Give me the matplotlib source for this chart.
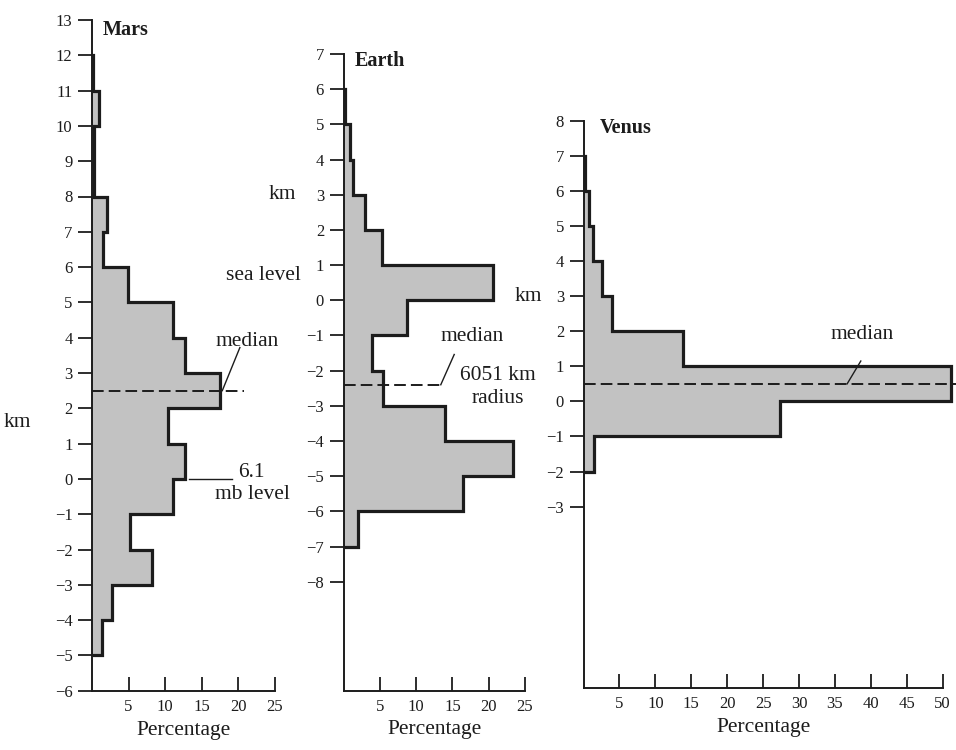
import matplotlib
matplotlib.use("Agg")
import matplotlib.pyplot as plt

plt.rcParams['font.family'] = ['Liberation Serif', 'DejaVu Serif']
plt.rcParams['mathtext.fontset'] = 'dejavuserif'

# Hypsometry: percentage of surface area per 1-km elevation bin (bottom-up)
mars_edges = list(range(-5, 13))
mars_pct = [1.3, 2.7, 8.2, 5.2, 11.1, 12.7, 10.4, 17.5, 12.7, 11.1,
            4.9, 1.5, 2.1, 0.3, 0.3, 0.9, 0.2]

earth_edges = list(range(-7, 7))
earth_pct = [2.0, 16.4, 23.4, 14.0, 5.4, 3.9, 8.8, 20.6, 5.3, 2.9,
             1.35, 0.9, 0.2]

venus_edges = list(range(-2, 8))
venus_pct = [1.4, 27.3, 51.2, 13.9, 4.0, 2.6, 1.3, 0.7, 0.2]

# Median elevations (km)
mars_median = 2.5
earth_median = -2.4
venus_median = 0.5

# Axis ticks
mars_yticks = list(range(-6, 14))
earth_yticks = list(range(-8, 8))
venus_yticks = list(range(-3, 9))
mars_xticks = [5, 10, 15, 20, 25]
earth_xticks = [5, 10, 15, 20, 25]
venus_xticks = list(range(5, 55, 5))

INK = '#1c1c1c'
FILL = '#c2c2c2'
TXT = 15.5
TICK = 12

W, H = 956, 750
fig = plt.figure(figsize=(W / 100, H / 100), dpi=100)
fig.patch.set_facecolor('white')


def make_axes(x0, x1, ytop, ybot):
    return fig.add_axes([x0 / W, 1 - ybot / H, (x1 - x0) / W, (ybot - ytop) / H])


def style(ax, xlim, ylim, xticks, yticks):
    ax.set_xlim(*xlim)
    ax.set_ylim(*ylim)
    ax.set_xticks(xticks)
    ax.set_yticks(yticks)
    ax.set_facecolor('none')
    for s in ('top', 'right'):
        ax.spines[s].set_visible(False)
    for s in ('left', 'bottom'):
        ax.spines[s].set_linewidth(1.4)
        ax.spines[s].set_color(INK)
    ax.tick_params(axis='y', direction='out', length=10, width=1.3,
                   pad=4, labelsize=TICK, colors=INK)
    ax.tick_params(axis='x', direction='in', length=10, width=1.3,
                   pad=6, labelsize=TICK, colors=INK)
    ax.set_xlabel('Percentage', fontsize=TXT, labelpad=4, color=INK)


def histogram(ax, edges, pct):
    ax.stairs(pct, edges, orientation='horizontal', baseline=0, fill=True,
              color=FILL, zorder=1, clip_on=False)
    ax.stairs(pct, edges, orientation='horizontal', baseline=0, fill=False,
              color=INK, lw=2.3, zorder=3, clip_on=False)


def median_line(ax, y, xend):
    ax.plot([0, xend], [y, y], color=INK, lw=1.4, ls=(0, (6, 2.6)),
            zorder=4, clip_on=False)


def leader(ax, p0, p1):
    ax.plot([p0[0], p1[0]], [p0[1], p1[1]], color=INK, lw=1.0,
            zorder=4, clip_on=False)


# ---- Mars ----
ax_m = make_axes(92, 275, 20, 690.7)
style(ax_m, (0, 25), (-6, 13), mars_xticks, mars_yticks)
histogram(ax_m, mars_edges, mars_pct)
median_line(ax_m, mars_median, 20.7)
leader(ax_m, (17.8, mars_median), (20.2, 3.72))
ax_m.text(16.9, 3.89, 'median', fontsize=TXT, ha='left', va='center', color=INK)
ax_m.plot([13.2, 19.1], [0, 0], color=INK, lw=1.0, clip_on=False)
ax_m.text(19.9, 0.18, '6.1', fontsize=TXT, ha='left', va='center', color=INK)
ax_m.text(16.8, -0.43, 'mb level', fontsize=TXT, ha='left', va='center', color=INK)
ax_m.text(1.5, 12.73, 'Mars', fontsize=14.5, fontweight='bold',
          ha='left', va='center', color=INK)
fig.text(17 / W, 1 - 423 / H, 'km', fontsize=TXT, ha='center', va='center', color=INK)

# ---- Earth ----
ax_e = make_axes(343.5, 525, 54, 690.5)
style(ax_e, (0, 25), (-11.09, 7), earth_xticks, earth_yticks)
histogram(ax_e, earth_edges, earth_pct)
median_line(ax_e, earth_median, 13.4)
leader(ax_e, (13.4, earth_median), (15.25, -1.54))
ax_e.text(13.4, -1.03, 'median', fontsize=TXT, ha='left', va='center', color=INK)
ax_e.text(16.1, -2.15, '6051 km', fontsize=TXT, ha='left', va='center', color=INK)
ax_e.text(17.6, -2.8, 'radius', fontsize=TXT, ha='left', va='center', color=INK)
ax_e.text(-6.5, 3.0, 'km', fontsize=TXT, ha='right', va='center', color=INK)
ax_e.text(-5.9, 0.7, 'sea level', fontsize=TXT, ha='right', va='center', color=INK)
ax_e.text(1.6, 6.79, 'Earth', fontsize=14.5, fontweight='bold',
          ha='left', va='center', color=INK)

# ---- Venus ----
ax_v = make_axes(583.5, 942.7, 120.7, 688)
style(ax_v, (0, 50), (-8.17, 8), venus_xticks, venus_yticks)
histogram(ax_v, venus_edges, venus_pct)
median_line(ax_v, venus_median, 51.8)
leader(ax_v, (36.7, venus_median), (38.6, 1.15))
ax_v.text(34.4, 1.9, 'median', fontsize=TXT, ha='left', va='center', color=INK)
ax_v.text(-5.8, 3.0, 'km', fontsize=TXT, ha='right', va='center', color=INK)
ax_v.text(2.3, 7.8, 'Venus', fontsize=14.5, fontweight='bold',
          ha='left', va='center', color=INK)

fig.savefig('out.png', dpi=100, facecolor='white')
